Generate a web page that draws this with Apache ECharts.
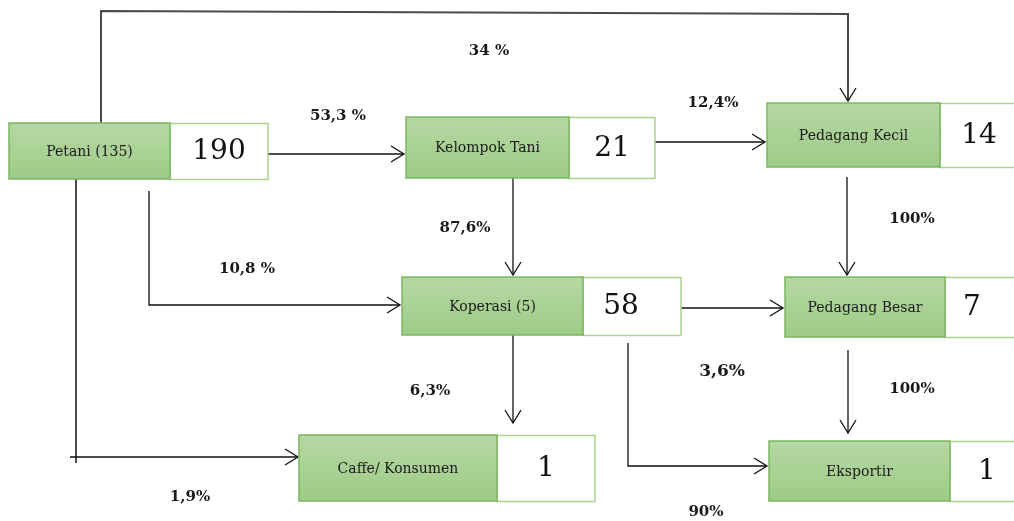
<!DOCTYPE html>
<html><head><meta charset="utf-8">
<script src="https://cdn.jsdelivr.net/npm/echarts@6/dist/echarts.min.js"></script>
<style>html,body{margin:0;padding:0;background:#fff}#c{width:1014px;height:521px}</style>
</head><body><div id="c"></div>
<script>
// ---- data ----
var nodeNames = ['Petani (135)', 'Kelompok Tani', 'Pedagang Kecil', 'Koperasi (5)', 'Pedagang Besar', 'Caffe/ Konsumen', 'Eksportir'];
var nodeValues = [190, 21, 14, 58, 7, 1, 1];
var flowLabels = ['34 %', '53,3 %', '12,4%', '87,6%', '10,8 %', '100%', '100%', '6,3%', '3,6%', '90%', '1,9%'];

// ---- layout (diagram coordinates) ----
// [xLeft, xSplit, xRight, yTop, yBottom]
var nodeBoxes = [
  [9, 170, 268, 123, 179],
  [406, 569, 655, 117, 178],
  [767, 940, 1024, 103, 167],
  [402, 583, 681, 277, 335],
  [785, 945, 1024, 277, 337],
  [299, 497, 595, 435, 501],
  [769, 950, 1024, 441, 501]
];
// x centre of the number inside the white part of each box
var numberX = [219, 612, 979, 621, 972, 546, 987];
var flowPaths = [
  {pts: [[101, 123], [101, 11], [848, 14], [848, 101]], arrow: true, gray: true},
  {pts: [[268, 154], [404, 154]], arrow: true},
  {pts: [[655, 142], [765, 142]], arrow: true},
  {pts: [[513, 178], [513, 275]], arrow: true},
  {pts: [[149, 191], [149, 305], [400, 305]], arrow: true},
  {pts: [[681, 308], [783, 308]], arrow: true},
  {pts: [[847, 177], [847, 275]], arrow: true},
  {pts: [[848, 350], [848, 433]], arrow: true},
  {pts: [[513, 334], [513, 423]], arrow: true},
  {pts: [[628, 343], [628, 466], [767, 466]], arrow: true},
  {pts: [[76, 175], [76, 463]], arrow: false, gray: true},
  {pts: [[70, 457], [298, 457]], arrow: true}
];
var flowLabelPos = [[489, 51], [338, 116], [713, 103], [465, 228], [247, 269], [912, 219], [912, 389], [430, 391], [722, 372], [706, 512], [190, 497]];
var flowLabelSize = [15, 15, 15, 15, 15, 15, 15, 15, 17, 15, 15];

var FONT = '"DejaVu Serif", "Liberation Serif", serif';

var chart = echarts.init(document.getElementById('c'), null, {renderer: 'canvas'});

function boxItem(params, api) {
  var i = params.dataIndex;
  var b = nodeBoxes[i];
  var p0 = api.coord([b[0], b[3]]);
  var p1 = api.coord([b[1], b[4]]);
  var p2 = api.coord([b[2], b[4]]);
  var pn = api.coord([numberX[i], b[3]]);
  var gx = p0[0], gy = p0[1], gw = p1[0] - p0[0], gh = p1[1] - p0[1];
  var wx = p1[0], ww = p2[0] - p1[0];
  return {
    type: 'group',
    children: [
      {type: 'rect', shape: {x: wx, y: gy + 0.5, width: ww, height: gh}, style: {fill: '#ffffff', stroke: '#a9d18e', lineWidth: 1.5}},
      {type: 'rect', shape: {x: gx, y: gy, width: gw, height: gh},
        style: {fill: new echarts.graphic.LinearGradient(0, 0, 0, 1, [{offset: 0, color: '#b6d8a5'}, {offset: 1, color: '#9dcb85'}]), stroke: '#7bb661', lineWidth: 1.5}},
      {type: 'text', x: gx + gw / 2, y: gy + gh / 2 + 1,
        style: {text: nodeNames[i], fill: '#1a1a1a', font: '14px ' + FONT, align: 'center', verticalAlign: 'middle'}},
      {type: 'text', x: pn[0], y: gy + gh / 2 + 1,
        style: {text: String(nodeValues[i]), fill: '#111', font: '28px ' + FONT, align: 'center', verticalAlign: 'middle'}}
    ]
  };
}

function arrowItem(params, api) {
  var f = flowPaths[params.dataIndex];
  var pts = f.pts.map(function (p) { return api.coord(p); });
  var color = f.gray ? '#4a4a4a' : '#111';
  var lw = f.gray ? 2 : 1.3;
  var children = [{type: 'polyline', shape: {points: pts}, style: {stroke: color, lineWidth: lw, fill: null}}];
  if (f.arrow) {
    var a = pts[pts.length - 2], b = pts[pts.length - 1];
    var dx = b[0] - a[0], dy = b[1] - a[1], L = Math.sqrt(dx * dx + dy * dy);
    var ux = dx / L, uy = dy / L, nx = -uy, ny = ux;
    var len = 13, half = 8;
    children.push({type: 'polyline', shape: {points: [
      [b[0] - ux * len + nx * half, b[1] - uy * len + ny * half],
      [b[0], b[1]],
      [b[0] - ux * len - nx * half, b[1] - uy * len - ny * half]
    ]}, style: {stroke: '#111', lineWidth: 1.3, fill: null}});
  }
  return {type: 'group', children: children};
}

function labelItem(params, api) {
  var p = api.coord(flowLabelPos[params.dataIndex]);
  return {type: 'text', x: p[0], y: p[1],
    style: {text: flowLabels[params.dataIndex], fill: '#1a1a1a', font: 'bold ' + flowLabelSize[params.dataIndex] + 'px ' + FONT, align: 'center', verticalAlign: 'middle'}};
}

chart.setOption({
  animation: false,
  backgroundColor: '#ffffff',
  grid: {left: 0, right: 0, top: 0, bottom: 0},
  xAxis: {type: 'value', min: 0, max: 1014, show: false},
  yAxis: {type: 'value', min: 0, max: 521, inverse: true, show: false},
  series: [
    {type: 'custom', clip: false, renderItem: arrowItem, data: flowPaths.map(function (f) { return f.pts[0]; })},
    {type: 'custom', clip: false, renderItem: boxItem, data: nodeBoxes.map(function (b) { return [b[0], b[3]]; })},
    {type: 'custom', clip: false, renderItem: labelItem, data: flowLabelPos.map(function (p) { return p; })}
  ]
});
</script>
</body></html>
